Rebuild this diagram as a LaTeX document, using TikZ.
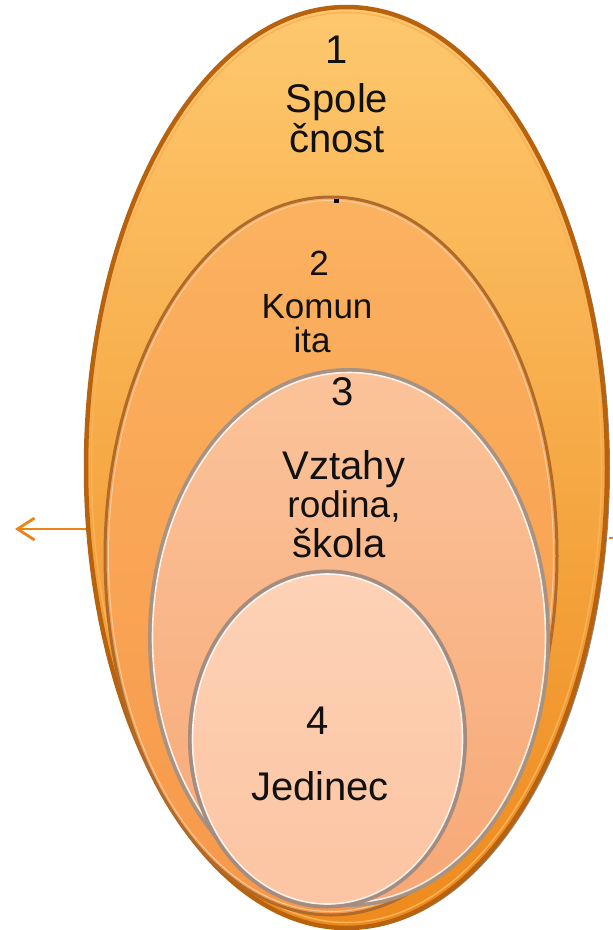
\documentclass[tikz,border=0pt]{standalone}
\usepackage{fontspec}
\setmainfont{Liberation Sans}
\usetikzlibrary{shapes.geometric,arrows.meta}
\definecolor{aone}{HTML}{FEC86E}
\definecolor{aonem}{HTML}{F9A843}
\definecolor{aoneb}{HTML}{EE8A1C}
\definecolor{aonerim}{HTML}{B8620E}
\definecolor{aonehi}{HTML}{F8B25A}
\definecolor{atwo}{HTML}{FBB260}
\definecolor{atwob}{HTML}{F7984A}
\definecolor{atworim}{HTML}{B06A2C}
\definecolor{atwohi}{HTML}{F9CC9E}
\definecolor{athree}{HTML}{FBC39A}
\definecolor{athreeb}{HTML}{F7A876}
\definecolor{athreerim}{HTML}{A89282}
\definecolor{afour}{HTML}{FDD2B6}
\definecolor{afourb}{HTML}{FCC4A2}
\definecolor{afourrim}{HTML}{A48C80}
\definecolor{arrowc}{HTML}{EC8418}
\definecolor{inkc}{HTML}{111111}
\begin{document}
\begin{tikzpicture}[x=1pt,y=-1pt,
  egg/.style={ellipse, inner sep=0pt, outer sep=0pt},
  lbl/.style={anchor=base, inner sep=0pt, text=inkc, font=\fontsize{40}{40}\selectfont},
  lblsm/.style={lbl, font=\fontsize{35}{35}\selectfont},
  hiline/.style={egg, draw=white, opacity=0.8, line width=1.6pt}
]
\useasboundingbox (0,0) rectangle (613,930);

% outer ellipse 1
\node[egg, fill=black, opacity=0.45, minimum width=521pt, minimum height=921pt] (sh1) at (349.5,469) {};
\node[egg, top color=aone, middle color=aonem, bottom color=aoneb, draw=aonerim, line width=4.5pt,
      minimum width=521pt, minimum height=921pt] (e1) at (346.5,467.5) {};
\node[egg, draw=aonehi, line width=1.5pt, minimum width=510pt, minimum height=910pt] (e1h) at (346.5,467.5) {};

% ellipse 2
\node[egg, top color=atwo, bottom color=atwob, draw=atworim, line width=3pt,
      minimum width=452pt, minimum height=718pt] (e2) at (331,556) {};
\node[egg, draw=atwohi, line width=1pt, minimum width=445pt, minimum height=711pt] (e2h) at (331,556) {};

% ellipse 3
\node[egg, top color=athree, bottom color=athreeb, draw=athreerim, line width=4pt,
      minimum width=398pt, minimum height=535pt] (e3) at (349,637.5) {};
\node[hiline, minimum width=393pt, minimum height=530pt] (e3h) at (349,637.5) {};

% ellipse 4
\node[egg, top color=afour, bottom color=afourb, draw=afourrim, line width=4pt,
      minimum width=275pt, minimum height=335pt] (e4) at (327.5,739) {};
\node[hiline, minimum width=270pt, minimum height=330pt] (e4h) at (327.5,739) {};

% small dot on ellipse 2
\node[fill=black, inner sep=0pt, minimum size=4.5pt] (dot) at (336.7,201) {};

% labels
\node[lbl] (t1) at (337,63) {1};
\node[lbl] (t1a) at (337,112) {Spole};
\node[lbl] (t1b) at (337,152) {čnost};

\node[lblsm] (t2) at (319,275) {2};
\node[lblsm] (t2a) at (317,318) {Komun};
\node[lblsm] (t2b) at (312,352) {ita};

\node[lbl] (t3) at (343,405) {3};
\node[lbl] (t3a) at (344,479) {Vztahy};
\node[lblsm, font=\fontsize{37}{37}\selectfont] (t3b) at (344,517) {rodina,};
\node[lbl] (t3c) at (339,557) {škola};

\node[lbl] (t4) at (318,734) {4};
\node[lbl] (t4a) at (320,800) {Jedinec};

% arrow on the left
\coordinate (tip) at (15,529);
\draw[arrowc, line width=2.8pt, -{Straight Barb[length=17pt,width=22pt,line width=2.8pt]}]
  (e1.west |- tip) -- (tip);

% stub on the right
\coordinate (rs1) at (609,538);
\coordinate (rs2) at (613,538);
\draw[arrowc, line width=2pt] (rs1) -- (rs2);
\end{tikzpicture}
\end{document}
